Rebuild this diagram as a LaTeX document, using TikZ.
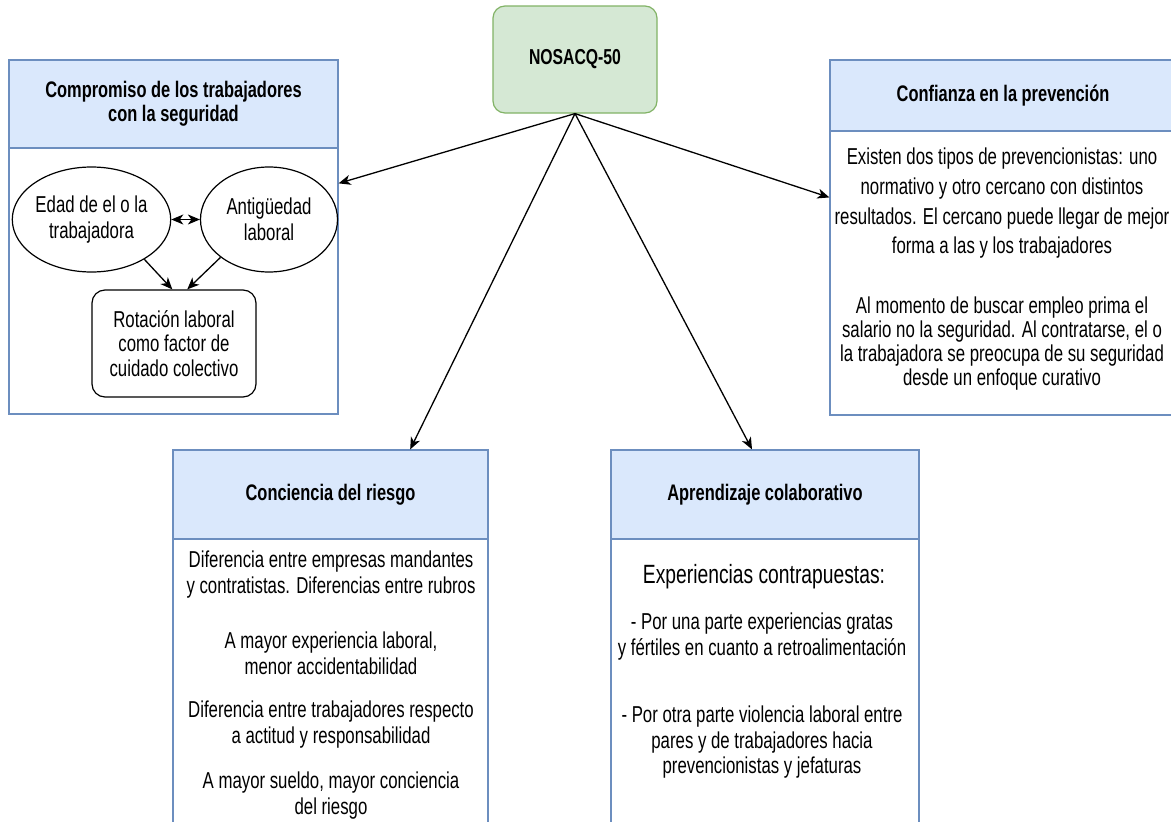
\documentclass[tikz,border=0pt]{standalone}
\usepackage{fontspec}
\setmainfont{Liberation Sans}[FakeStretch=0.73]
\usetikzlibrary{arrows.meta,shapes.geometric,calc}
\definecolor{hdrfill}{HTML}{DAE8FC}
\definecolor{hdrline}{HTML}{6C8EBF}
\definecolor{grnfill}{HTML}{D5E8D4}
\definecolor{grnline}{HTML}{82B366}
\tikzset{
  panel/.style={draw=hdrline, fill=white, line width=1.2pt, inner sep=0pt},
  hdr/.style={draw=hdrline, fill=hdrfill, line width=1.2pt, inner sep=0pt, align=center,
    font={\fontsize{22.5pt}{24pt}\selectfont\bfseries}},
  topbox/.style={draw=grnline, fill=grnfill, line width=1.2pt, rounded corners=12pt, inner sep=0pt,
    minimum width=164pt, minimum height=107pt, font={\fontsize{21.6pt}{24pt}\selectfont\bfseries}},
  oval/.style={ellipse, draw=black, line width=1.2pt, inner sep=0pt, align=center,
    minimum width=137pt, minimum height=105pt, font={\fontsize{23pt}{26pt}\selectfont}},
  roundbox/.style={draw=black, line width=1.2pt, rounded corners=13pt, inner sep=0pt, align=center,
    minimum width=164pt, minimum height=107pt, font={\fontsize{23pt}{24.5pt}\selectfont}},
  txt/.style={inner sep=0pt, align=center, font={\fontsize{23pt}{26pt}\selectfont}},
  arr/.style={draw=black, line width=1.3pt, -{Stealth[length=12pt,width=10pt,inset=3.5pt]}},
  darr/.style={draw=black, line width=1.3pt, {Stealth[length=12pt,width=10pt,inset=3.5pt]}-{Stealth[length=12pt,width=10pt,inset=3.5pt]}}
}
\begin{document}
\begin{tikzpicture}[x=1pt,y=-1pt]
\useasboundingbox (0,0) rectangle (1171,822);
\clip (0,0) rectangle (1171,822);
\fill[white] (0,0) rectangle (1171,822);

% top node
\node[topbox] (nos) at (575,59.5) {NOSACQ-50};

% left panel
\node[panel, minimum width=329pt, minimum height=354pt] (lbox) at (173.5,237) {};
\node[hdr, minimum width=329pt, minimum height=88pt] (lhead) at (173.5,104) {Compromiso de los trabajadores\\con la seguridad};
\node[oval] (e1) at (91.5,219.5) {Edad de el o la\\trabajadora};
\node[oval] (e2) at (269,219.5) {Antigüedad\\laboral};
\node[roundbox] (rot) at (174,343.5) {Rotación laboral\\como factor de\\cuidado colectivo};
\draw[darr] (e1.east) -- (e2.west);
\draw[arr] (e1.-37) -- ($(rot.north west)!0.49!(rot.north east)$);
\draw[arr] (e2.-142) -- ($(rot.north west)!0.58!(rot.north east)$);

% right panel
\node[panel, minimum width=346pt, minimum height=355pt] (rbox) at (1003,237.5) {};
\node[hdr, minimum width=346pt, minimum height=71pt] (rhead) at (1003,95.5) {Confianza en la prevención};
\node[txt, font={\fontsize{23pt}{29.7pt}\selectfont}] (r1) at (1002,203.5) {Existen dos tipos de prevencionistas: uno\\normativo y otro cercano con distintos\\resultados. El cercano puede llegar de mejor\\forma a las y los trabajadores};
\node[txt, font={\fontsize{23pt}{24.3pt}\selectfont}] (r2) at (1002,343.5) {Al momento de buscar empleo prima el\\salario no la seguridad. Al contratarse, el o\\la trabajadora se preocupa de su seguridad\\desde un enfoque curativo};

% bottom-left panel
\node[panel, minimum width=315pt, minimum height=410pt] (cbox) at (330.5,655) {};
\node[hdr, minimum width=315pt, minimum height=89pt] (chead) at (330.5,494.5) {Conciencia del riesgo};
\node[txt] (c1) at (331,575) {Diferencia entre empresas mandantes\\y contratistas. Diferencias entre rubros};
\node[txt] (c2) at (331,653.5) {A mayor experiencia laboral,\\menor accidentabilidad};
\node[txt] (c3) at (331,725) {Diferencia entre trabajadores respecto\\a actitud y responsabilidad};
\node[txt] (c4) at (331,795.5) {A mayor sueldo, mayor conciencia\\del riesgo};

% bottom-right panel
\node[panel, minimum width=308pt, minimum height=410pt] (abox) at (765,655) {};
\node[hdr, minimum width=308pt, minimum height=89pt] (ahead) at (765,494.5) {Aprendizaje colaborativo};
\node[txt, font={\fontsize{26.4pt}{28pt}\selectfont}] (a0) at (764,577) {Experiencias contrapuestas:};
\node[txt] (a1) at (762,636.5) {- Por una parte experiencias gratas\\y fértiles en cuanto a retroalimentación};
\node[txt, font={\fontsize{23pt}{25.5pt}\selectfont}] (a2) at (762,742.5) {- Por otra parte violencia laboral entre\\pares y de trabajadores hacia\\prevencionistas y jefaturas};

% connectors from the top node
\draw[arr] (nos.south) -- (lbox.18.2);
\draw[arr] (nos.south) -- (rbox.167.8);
\draw[arr] (nos.south) -- ($(cbox.north west)!0.752!(cbox.north east)$);
\draw[arr] (nos.south) -- ($(abox.north west)!0.458!(abox.north east)$);
\end{tikzpicture}
\end{document}
